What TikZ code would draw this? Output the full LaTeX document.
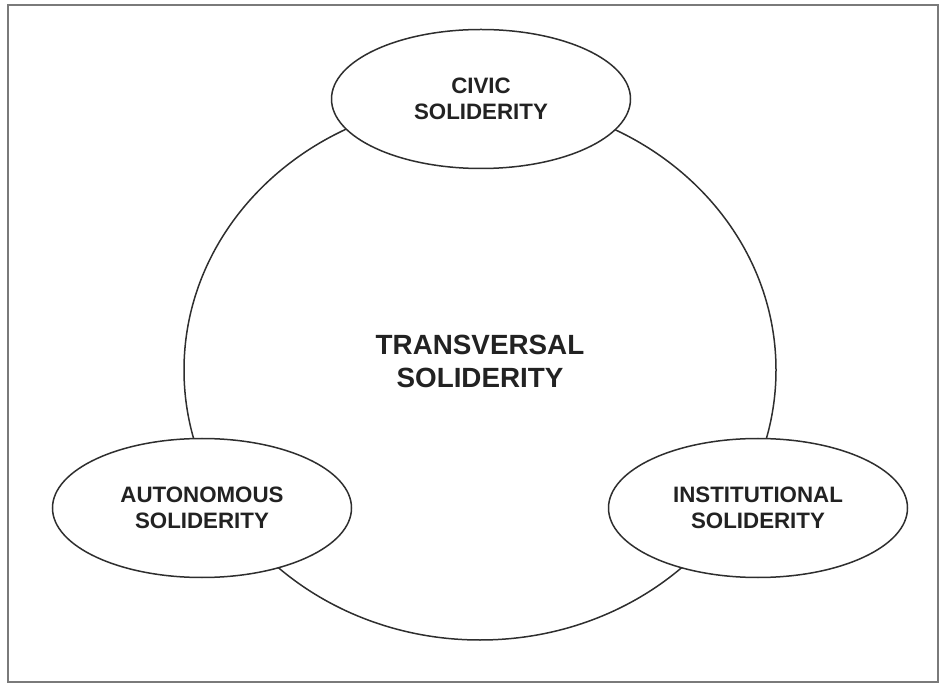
\documentclass[tikz,border=0pt]{standalone}
\usepackage{fontspec}
\setmainfont{Liberation Sans}
\usetikzlibrary{shapes.geometric}
\definecolor{inkc}{HTML}{222222}
\definecolor{linec}{HTML}{2E2E2E}
\definecolor{framec}{HTML}{7A7A7A}
\tikzset{
  x=1pt, y=-1pt,
  satellite/.style={ellipse, draw=linec, line width=1.5pt, fill=white,
    minimum width=299pt, minimum height=139pt, inner sep=0pt,
    align=center, text=inkc, font=\fontsize{22.3}{25.5}\selectfont\bfseries},
  bigring/.style={ellipse, draw=linec, line width=1.5pt,
    minimum width=592pt, minimum height=540pt, inner sep=0pt},
  bigtext/.style={align=center, text=inkc, font=\fontsize{27.8}{33}\selectfont\bfseries}
}
\begin{document}
\begin{tikzpicture}
\useasboundingbox (0,0) rectangle (940,684);
\draw[framec, line width=2pt] (8,5) rectangle (938,682);
\node[bigring] (trans) at (480,370) {};
\node[bigtext] (transtext) at (480,361) {TRANSVERSAL\\SOLIDERITY};
\node[satellite] (civic) at (481,99) {CIVIC\\SOLIDERITY};
\node[satellite] (auto) at (202,508) {AUTONOMOUS\\SOLIDERITY};
\node[satellite] (inst) at (758,508) {INSTITUTIONAL\\SOLIDERITY};
\end{tikzpicture}
\end{document}
